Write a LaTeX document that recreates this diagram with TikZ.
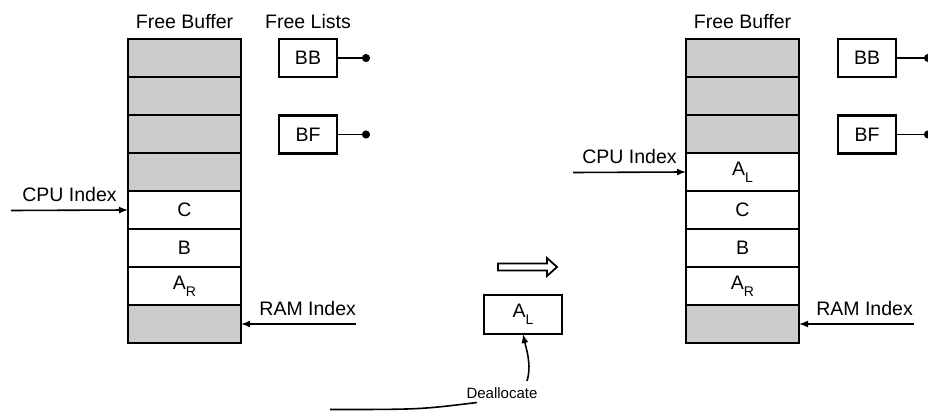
\documentclass[tikz,border=0pt]{standalone}
\usepackage{fontspec}
\setmainfont{Liberation Sans}
\usetikzlibrary{arrows.meta, positioning}
\definecolor{bufgray}{RGB}{204,204,204}
\newcommand{\lowsub}[1]{\raisebox{-7pt}{\fontsize{14}{14}\selectfont #1}}

\begin{document}
\begin{tikzpicture}[
  x=1pt, y=-1pt,
  font=\fontsize{19.5}{22}\selectfont,
  cell/.style={draw, line width=2.4pt, minimum width=113pt, minimum height=38pt,
               inner sep=0pt, outer sep=0pt},
  datacell/.style={cell, fill=white},
  freecell/.style={cell, fill=bufgray},
  lbox/.style={draw, line width=2.4pt, minimum width=58pt, minimum height=38pt,
               inner sep=0pt, outer sep=0pt},
  idx/.style={-{Latex[length=9pt, width=7pt]}, line width=1.6pt},
  link/.style={-{Circle[length=8pt]}, line width=1.6pt},
  lbl/.style={above, inner sep=3pt, yshift=5pt}
]
\useasboundingbox (0,0) rectangle (928,411);

% buffer before deallocation
\node[freecell] (lg1) at (184.5,58) {};
\node[freecell, below=0pt of lg1] (lg2) {};
\node[freecell, below=0pt of lg2] (lg3) {};
\node[freecell, below=0pt of lg3] (lg4) {};
\node[datacell, below=0pt of lg4] (lc) {C};
\node[datacell, below=0pt of lc] (lb) {B};
\node[datacell, below=0pt of lb] (lar) {A\lowsub{R}};
\node[freecell, below=0pt of lar] (lg5) {};
\node[above=7pt of lg1] (ltitle) {Free Buffer};

\node[lbox] (lbb) at (308,58) {BB};
\node[lbox] (lbf) at (308,134.5) {BF};
\node[above=7pt of lbb] (lists) {Free Lists};
\coordinate (lbbend) at (370,58);
\coordinate (lbfend) at (370,134.5);
\draw[link] (lbb) -- (lbbend);
\draw[link] (lbf) -- (lbfend);

\coordinate (lcpu) at (11,210.5);
\coordinate (lram) at (356,324);
\draw[idx] (lcpu) -- node[lbl, midway]{CPU Index} (lc.west);
\draw[idx] (lram) -- node[lbl, pos=0.42]{RAM Index} (lg5.east);

% block to give back
\draw[line width=1.8pt, line join=miter] (498,263.5) -- (547,263.5) -- (547,258) -- (557,267)
  -- (547,276) -- (547,270.5) -- (498,270.5) -- cycle;

\node[lbox, minimum width=78pt, minimum height=39pt] (al) at (523,314.5) {A\lowsub{L}};
\node[font=\fontsize{15}{18}\selectfont] (dl) at (502,393) {Deallocate};
\coordinate (dtop) at (527,381);
\draw[idx] (dtop) .. controls (532,365) and (526,348) .. (al.south);
\coordinate (cstart) at (330,409.5);
\coordinate (cend) at (477,402.5);
\draw[line width=1.6pt] (cstart) .. controls (420,409.5) .. (cend);

% buffer after deallocation
\node[freecell] (rg1) at (742.5,58) {};
\node[freecell, below=0pt of rg1] (rg2) {};
\node[freecell, below=0pt of rg2] (rg3) {};
\node[datacell, below=0pt of rg3] (ral) {A\lowsub{L}};
\node[datacell, below=0pt of ral] (rc) {C};
\node[datacell, below=0pt of rc] (rb) {B};
\node[datacell, below=0pt of rb] (rar) {A\lowsub{R}};
\node[freecell, below=0pt of rar] (rg4) {};
\node[above=7pt of rg1] (rtitle) {Free Buffer};

\node[lbox] (rbb) at (867,58) {BB};
\node[lbox] (rbf) at (867,134.5) {BF};
\coordinate (rbbend) at (932,58);
\coordinate (rbfend) at (932,134.5);
\draw[link] (rbb) -- (rbbend);
\draw[link] (rbf) -- (rbfend);

\coordinate (rcpu) at (573,172.5);
\coordinate (rram) at (914,324);
\draw[idx] (rcpu) -- node[lbl, midway]{CPU Index} (ral.west);
\draw[idx] (rram) -- node[lbl, pos=0.43]{RAM Index} (rg4.east);
\end{tikzpicture}
\end{document}
